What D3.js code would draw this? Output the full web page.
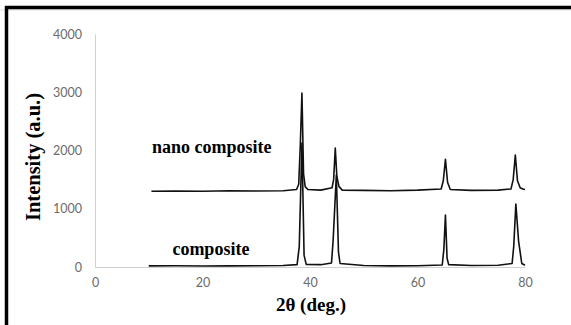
<!DOCTYPE html>
<html>
<head>
<meta charset="utf-8">
<script src="https://cdn.jsdelivr.net/npm/d3@7"></script>
<style>
  body { margin: 0; background: #fff; }
  .tick text { font-family: Lato, "Liberation Sans", sans-serif; font-size: 12.5px; fill: #6b6b6b; }
  .title { font-family: "Liberation Serif", "Times New Roman", serif; font-weight: bold; fill: #000; }
</style>
</head>
<body>
<div id="chart"></div>
<script>
// x-ray diffraction patterns
const compTheta = [10, 15, 20, 25, 30, 35, 37.6, 38.0, 38.5, 38.9, 39.3, 42, 44.0, 44.3, 44.9, 45.3, 45.6, 50, 55, 60, 64.6, 64.9, 65.2, 65.5, 65.8, 70, 75, 77.6, 77.9, 78.3, 78.8, 79.4, 80];
const compInt   = [20, 22, 18, 20, 22, 25, 40, 350, 2130, 200, 45, 40, 70, 450, 1580, 250, 60, 25, 20, 22, 35, 300, 890, 150, 40, 25, 30, 60, 350, 1080, 450, 60, 30];

const nanoTheta = [10.5, 15, 20, 25, 30, 35, 37.5, 37.9, 38.2, 38.5, 38.8, 39.1, 39.6, 42, 44.1, 44.4, 44.7, 45.0, 45.4, 46.0, 50, 55, 60, 64.4, 64.8, 65.2, 65.6, 66.1, 70, 75, 77.4, 77.8, 78.2, 78.6, 79.1, 79.6, 80];
const nanoInt   = [1300, 1305, 1300, 1310, 1305, 1310, 1330, 1420, 2100, 2985, 1600, 1380, 1330, 1320, 1360, 1500, 2040, 1550, 1380, 1320, 1315, 1310, 1320, 1340, 1480, 1850, 1450, 1330, 1315, 1320, 1340, 1500, 1920, 1480, 1360, 1340, 1330];

const xTicks = [0, 20, 40, 60, 80];
const yTicks = [0, 1000, 2000, 3000, 4000];

const W = 571, H = 325;
const margin = {top: 34, right: 46, bottom: 58, left: 95},
    width = W - margin.left - margin.right,
    height = H - margin.top - margin.bottom;

const svg = d3.select("#chart").append("svg")
    .attr("width", W)
    .attr("height", H);

// frame: thick left and top edges only
svg.append("line").attr("x1", 0).attr("x2", W).attr("y1", 10).attr("y2", 10)
    .attr("stroke", "#ddd").attr("stroke-width", 1);
svg.append("line").attr("x1", 5).attr("x2", W).attr("y1", 7.5).attr("y2", 7.5)
    .attr("stroke", "#000").attr("stroke-width", 3.5);
svg.append("line").attr("x1", 6.5).attr("x2", 6.5).attr("y1", 6).attr("y2", H)
    .attr("stroke", "#000").attr("stroke-width", 3.5);

const g = svg.append("g").attr("transform", `translate(${margin.left},${margin.top})`);

const x = d3.scaleLinear().domain([0, 80]).range([0, width]);
const y = d3.scaleLinear().domain([0, 4000]).range([height, 0]);

// axes
const yAxis = g.append("g").call(d3.axisLeft(y).tickValues(yTicks).tickFormat(d3.format("d")).tickSize(0).tickPadding(13));
yAxis.select(".domain").attr("stroke", "#d0d0d0");
const xAxis = g.append("g").attr("transform", `translate(0,${height})`)
    .call(d3.axisBottom(x).tickValues(xTicks).tickFormat(d3.format("d")).tickSize(0).tickPadding(11));
xAxis.select(".domain").attr("stroke", "#d0d0d0");

// lines
const line = d3.line()
    .x(d => x(d[0]))
    .y(d => y(d[1]));

g.append("path")
    .datum(d3.zip(compTheta, compInt))
    .attr("fill", "none")
    .attr("stroke", "#111")
    .attr("stroke-width", 1.6)
    .attr("stroke-linejoin", "round")
    .attr("d", line);

g.append("path")
    .datum(d3.zip(nanoTheta, nanoInt))
    .attr("fill", "none")
    .attr("stroke", "#111")
    .attr("stroke-width", 1.6)
    .attr("stroke-linejoin", "round")
    .attr("d", line);

// labels
g.append("text").attr("class", "title")
    .attr("x", x(10.6)).attr("y", y(1950))
    .style("font-size", "18px")
    .text("nano composite");
g.append("text").attr("class", "title")
    .attr("x", x(14.4)).attr("y", y(200))
    .style("font-size", "18px")
    .text("composite");

// axis titles
svg.append("text").attr("class", "title")
    .attr("text-anchor", "middle")
    .attr("transform", `translate(40,157) rotate(-90)`)
    .style("font-size", "20.5px")
    .text("Intensity (a.u.)");
svg.append("text").attr("class", "title")
    .attr("text-anchor", "middle")
    .attr("x", 311)
    .attr("y", 311)
    .style("font-size", "19px")
    .text("2θ (deg.)");
</script>
</body>
</html>
